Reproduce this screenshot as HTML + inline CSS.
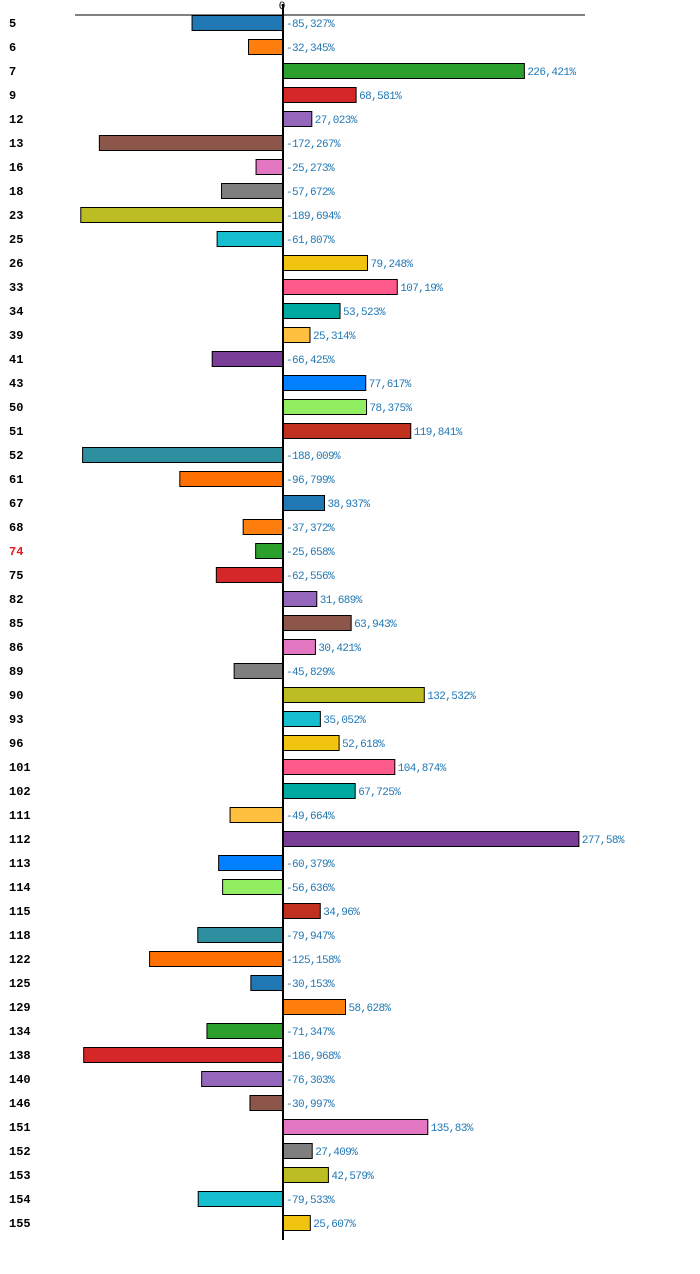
<!DOCTYPE html>
<html><head><meta charset="utf-8"><style>
body{margin:0;background:#fff;width:700px;height:1269px;overflow:hidden}
svg text{font-family:"Liberation Mono",monospace}
</style></head><body>
<svg id="chart" width="700" height="1269" xmlns="http://www.w3.org/2000/svg"></svg>
<script>
const categories=["5","6","7","9","12","13","16","18","23","25","26","33","34","39","41","43","50","51","52","61","67","68","74","75","82","85","86","89","90","93","96","101","102","111","112","113","114","115","118","122","125","129","134","138","140","146","151","152","153","154","155"];
const values=[-85.327,-32.345,226.421,68.581,27.023,-172.267,-25.273,-57.672,-189.694,-61.807,79.248,107.19,53.523,25.314,-66.425,77.617,78.375,119.841,-188.009,-96.799,38.937,-37.372,-25.658,-62.556,31.689,63.943,30.421,-45.829,132.532,35.052,52.618,104.874,67.725,-49.664,277.58,-60.379,-56.636,34.96,-79.947,-125.158,-30.153,58.628,-71.347,-186.968,-76.303,-30.997,135.83,27.409,42.579,-79.533,25.607];
const valueLabels=["-85,327%","-32,345%","226,421%","68,581%","27,023%","-172,267%","-25,273%","-57,672%","-189,694%","-61,807%","79,248%","107,19%","53,523%","25,314%","-66,425%","77,617%","78,375%","119,841%","-188,009%","-96,799%","38,937%","-37,372%","-25,658%","-62,556%","31,689%","63,943%","30,421%","-45,829%","132,532%","35,052%","52,618%","104,874%","67,725%","-49,664%","277,58%","-60,379%","-56,636%","34,96%","-79,947%","-125,158%","-30,153%","58,628%","-71,347%","-186,968%","-76,303%","-30,997%","135,83%","27,409%","42,579%","-79,533%","25,607%"];
const palette=["#1f77b4","#ff7f0e","#2ca02c","#d62728","#9467bd","#8c564b","#e377c2","#7f7f7f","#bcbd22","#17becf","#f1c40f","#ff5a8c","#00aaa0","#ffc040","#7a3d98","#0080ff","#90ee60","#c0301e","#2e8fa0","#ff7000"];
const NS="http://www.w3.org/2000/svg";
const svg=document.getElementById('chart');
const x0=283,k=1.066;
const xs=v=>x0+v*k;
const yTop=i=>15+24*i;
function mk(t,a){const e=document.createElementNS(NS,t);for(const n in a)e.setAttribute(n,a[n]);svg.appendChild(e);return e;}
let l=mk('line',{x1:75,x2:585,y1:15,y2:15,stroke:'#000','stroke-width':1});


let z=mk('text',{x:282,y:9,'font-size':11,'text-anchor':'middle',fill:'#000'});z.textContent='0';


values.forEach((v,i)=>{
  const a=xs(0),b=xs(v);
  const r=mk('rect',{x:Math.min(a,b),y:yTop(i)+0.5,width:Math.abs(b-a),height:15,fill:palette[i%palette.length],stroke:'#000','stroke-width':1});
  
  
  const t=mk('text',{x:v>=0?b+3:x0+3,y:yTop(i)+12,'font-size':11,'letter-spacing':'-0.6',fill:'#1f77b4'});t.textContent=valueLabels[i];
  
  
  const c=mk('text',{x:9,y:yTop(i)+12,'font-size':12,'font-weight':'bold',fill:categories[i]==='74'?'#e41a1c':'#000'});c.textContent=categories[i];
  
  
});
let ax=mk('line',{x1:283,x2:283,y1:4,y2:1240,stroke:'#000','stroke-width':2});


</script>
</body></html>
